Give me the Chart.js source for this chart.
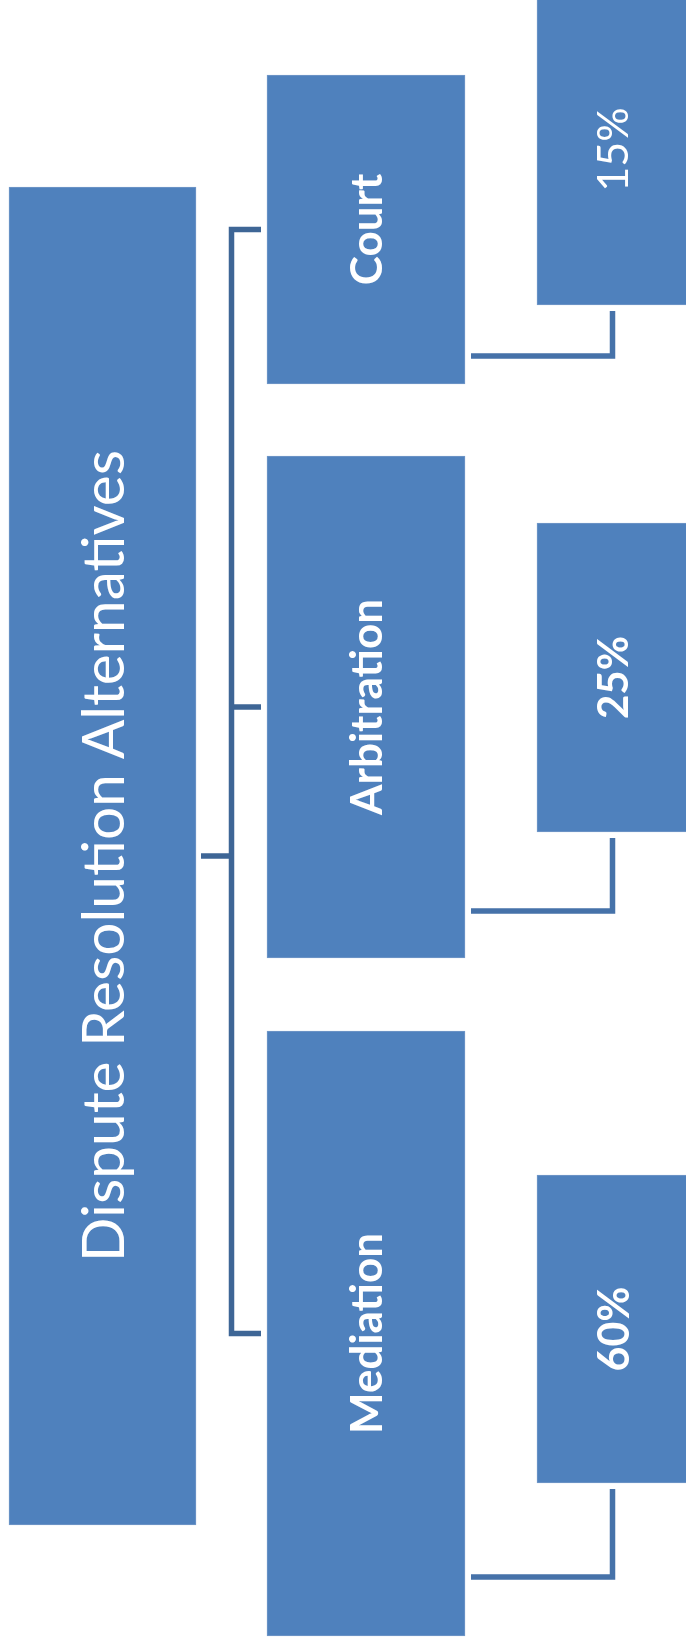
<!DOCTYPE html>
<html><head><meta charset="utf-8">
<script src="https://cdn.jsdelivr.net/npm/chart.js@4.4.1/dist/chart.umd.min.js"></script>
<style>html,body{margin:0;padding:0;background:#fff;}#wrap{width:686px;height:1648px;position:relative;}canvas{display:block;}</style>
</head><body><div id="wrap"><canvas id="c" width="686" height="1648"></canvas></div>
<script>
// ---- data ----
const rootTitle = ['Dispute Resolution Alternatives'];
const methods = ['Court', 'Arbitration', 'Mediation'];
const shares = [15, 25, 60];
const shareLabels = ['15%', '25%', '60%'];

// ---- layout (page units) ----
const L = {
  root:   { x: 102.5, w: 187, spans: [[187, 1525]] },
  branch: { x: 366,   w: 198, spans: [[75, 384], [456, 958], [1031, 1636]] },
  share:  { x: 612.5, w: 151, spans: [[-6, 305], [523, 832], [1175, 1483]] },
  bracketX: 231.5, stubEnd: 261, rootStubStart: 201,
  linkStartX: 471, linkY: [356, 911, 1577], linkGap: 6
};
const BOX = '#4f81bd', EDGE = '#7399c9', BRACKET = '#3e6696', LINK = '#4672a9';
const FONT = 'Lato';
const rootFont = 'normal 58.5px ' + FONT;
const branchFont = 'bold 44px ' + FONT;
const shareFonts = ['normal 43px ' + FONT, 'bold 42px ' + FONT, 'bold 43px ' + FONT];

function mid(s) { return (s[0] + s[1]) / 2; }

const barDefaults = { type: 'bar', backgroundColor: BOX, borderColor: EDGE, borderWidth: 1, borderSkipped: false, stack: 'diagram', grouped: true };
const lineDefaults = { type: 'line', pointRadius: 0, fill: false, tension: 0, borderWidth: 5.5, borderJoinStyle: 'miter', borderCapStyle: 'butt', spanGaps: false };

const datasets = [];
datasets.push(Object.assign({}, barDefaults, {
  label: 'root', barThickness: L.root.w,
  data: rootTitle.map((t, i) => ({ x: L.root.x, y: L.root.spans[i] })),
  boxLabels: rootTitle, labelFonts: rootTitle.map(() => rootFont)
}));
datasets.push(Object.assign({}, barDefaults, {
  label: 'methods', barThickness: L.branch.w,
  data: methods.map((t, i) => ({ x: L.branch.x, y: L.branch.spans[i] })),
  boxLabels: methods, labelFonts: methods.map(() => branchFont)
}));
datasets.push(Object.assign({}, barDefaults, {
  label: 'shares', barThickness: L.share.w,
  data: shares.map((v, i) => ({ x: L.share.x, y: L.share.spans[i] })),
  boxLabels: shareLabels, labelFonts: shareFonts
}));
// bracket from root to methods
const rootMid = mid(L.root.spans[0]);
datasets.push(Object.assign({}, lineDefaults, { label: 'rootStub', borderColor: BRACKET,
  data: [{ x: L.rootStubStart, y: rootMid }, { x: L.bracketX, y: rootMid }] }));
const firstMid = mid(L.branch.spans[0]), lastMid = mid(L.branch.spans[methods.length - 1]);
datasets.push(Object.assign({}, lineDefaults, { label: 'bracket', borderColor: BRACKET,
  data: [{ x: L.stubEnd, y: firstMid }, { x: L.bracketX, y: firstMid }, { x: L.bracketX, y: lastMid }, { x: L.stubEnd, y: lastMid }] }));
methods.forEach((m, i) => {
  if (i === 0 || i === methods.length - 1) return;
  const y = mid(L.branch.spans[i]);
  datasets.push(Object.assign({}, lineDefaults, { label: 'stub' + i, borderColor: BRACKET,
    data: [{ x: L.bracketX, y }, { x: L.stubEnd, y }] }));
});
// links from methods to shares
methods.forEach((m, i) => {
  const y = L.linkY[i];
  datasets.push(Object.assign({}, lineDefaults, { label: 'link' + i, borderColor: LINK,
    data: [{ x: L.linkStartX, y }, { x: L.share.x, y }, { x: L.share.x, y: L.share.spans[i][1] + L.linkGap }] }));
});

const labelPlugin = {
  id: 'boxLabels',
  afterDatasetsDraw(chart) {
    const ctx = chart.ctx;
    chart.data.datasets.forEach((ds, di) => {
      if (!ds.boxLabels) return;
      chart.getDatasetMeta(di).data.forEach((el, i) => {
        const cx = el.x, cy = (el.y + el.base) / 2;
        ctx.save();
        ctx.font = ds.labelFonts[i];
        const capH = ctx.measureText('H').actualBoundingBoxAscent || 30;
        ctx.translate(cx, cy);
        ctx.rotate(-Math.PI / 2);
        ctx.fillStyle = '#ffffff';
        ctx.textAlign = 'center';
        ctx.textBaseline = 'alphabetic';
        ctx.fillText(ds.boxLabels[i], 0, capH / 2);
        ctx.restore();
      });
    });
  }
};

new Chart(document.getElementById('c'), {
  type: 'bar',
  data: { datasets },
  options: {
    responsive: false, animation: false, events: [],
    layout: { padding: 0 },
    plugins: { legend: { display: false }, tooltip: { enabled: false } },
    scales: {
      x: { type: 'linear', min: 0, max: 686, offset: false, display: false },
      y: { type: 'linear', min: 0, max: 1648, reverse: true, offset: false, display: false, stacked: false }
    }
  },
  plugins: [labelPlugin]
});
</script>
</body></html>
